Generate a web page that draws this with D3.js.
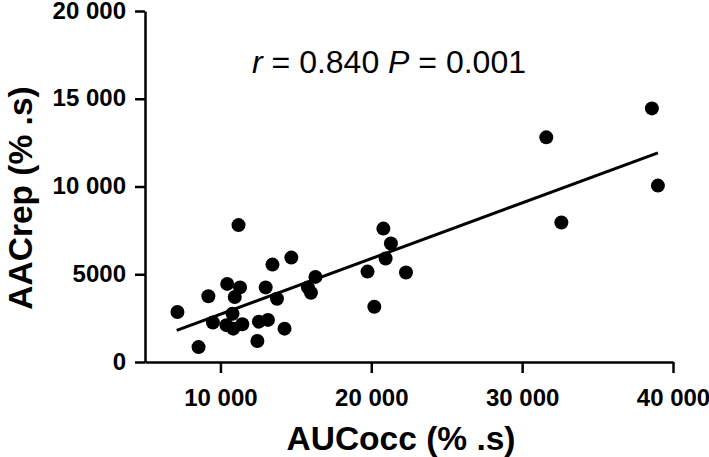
<!DOCTYPE html>
<html>
<head>
<meta charset="utf-8">
<script src="https://cdn.jsdelivr.net/npm/d3@7"></script>
<style>
  body { margin: 0; background: #fff; }
  svg { display: block; font-family: "Liberation Sans", Arial, sans-serif; }
</style>
</head>
<body>
<svg></svg>
<script>
const WIDTH = 709;
const HEIGHT = 457;

// AUCocc (x) and AACrep (y), one entry per subject
const aucOcc = [11200, 13450, 14700, 16300, 10450, 11300, 10950, 9200, 13000, 13750,
                15800, 16000, 7150, 10800, 9500, 10400, 10850, 11450, 12550, 13150,
                14250, 12450, 8550, 20800, 21300, 20950, 19750, 22300, 20200,
                31600, 38600, 39000, 32600];
const aacRep = [7800, 5550, 5950, 4850, 4450, 4250, 3700, 3750, 4250, 3600,
                4250, 3950, 2850, 2750, 2250, 2100, 1900, 2150, 2300, 2400,
                1900, 1200, 850, 7600, 6750, 5900, 5150, 5100, 3150,
                12800, 14450, 10050, 7950];

// regression line end points
const fitX = [7100, 39000];
const fitY = [1800, 11920];

const xTicks = [10000, 20000, 30000, 40000];
const yTicks = [0, 5000, 10000, 15000, 20000];

let svg = d3.select('svg')
    .attr('width', WIDTH)
    .attr('height', HEIGHT);

let x = d3.scaleLinear().domain([5000, 40000]).range([145, 673]);
let y = d3.scaleLinear().domain([0, 20000]).range([362, 11]);

// "20 000" style, but 5000 stays plain
const fmt = (d) => d >= 10000 ? d3.format(',')(d).replace(',', ' ') : String(d);

let xAxis = svg.append('g')
    .attr('transform', `translate(0,${y(0)})`)
    .call(d3.axisBottom(x).tickValues(xTicks).tickSize(11).tickSizeOuter(0).tickFormat(fmt));
let yAxis = svg.append('g')
    .attr('transform', `translate(${x(5000)},0)`)
    .call(d3.axisLeft(y).tickValues(yTicks).tickSize(10).tickSizeOuter(0).tickFormat(fmt));

for (const ax of [xAxis, yAxis]) {
    ax.selectAll('path, line')
        .attr('stroke', '#000')
        .attr('stroke-width', 2.5);
    ax.selectAll('text')
        .attr('fill', '#000')
        .style('font-family', '"Liberation Sans", Arial, sans-serif')
        .style('font-size', '24px')
        .style('font-weight', 'bold');
}
xAxis.selectAll('text').attr('y', 0).attr('dy', null).attr('transform', 'translate(0,44)');
yAxis.selectAll('text').attr('x', -19).attr('dy', '0.3em');

// regression line
svg.append('line')
    .attr('x1', x(fitX[0])).attr('y1', y(fitY[0]))
    .attr('x2', x(fitX[1])).attr('y2', y(fitY[1]))
    .attr('stroke', '#000')
    .attr('stroke-width', 3);

// points
svg.append('g')
    .selectAll('circle')
    .data(aucOcc.map((v, i) => [v, aacRep[i]]))
    .enter()
    .append('circle')
        .attr('cx', (d) => x(d[0]))
        .attr('cy', (d) => y(d[1]))
        .attr('r', 7)
        .attr('fill', '#000');

// stats annotation
let stat = svg.append('text')
    .attr('x', 252)
    .attr('y', 73)
    .style('font-size', '32px')
    .attr('fill', '#000');
stat.append('tspan').style('font-style', 'italic').text('r');
stat.append('tspan').text(' = 0.840 ');
stat.append('tspan').style('font-style', 'italic').text('P');
stat.append('tspan').text(' = 0.001');

// axis titles
svg.append('text')
    .attr('x', 401)
    .attr('y', 450)
    .attr('text-anchor', 'middle')
    .style('font-size', '33.5px')
    .style('font-weight', 'bold')
    .text('AUCocc (% .s)');

svg.append('text')
    .attr('transform', 'translate(32,198) rotate(-90)')
    .attr('text-anchor', 'middle')
    .style('font-size', '33.5px')
    .style('font-weight', 'bold')
    .text('AACrep (% .s)');
</script>
</body>
</html>
